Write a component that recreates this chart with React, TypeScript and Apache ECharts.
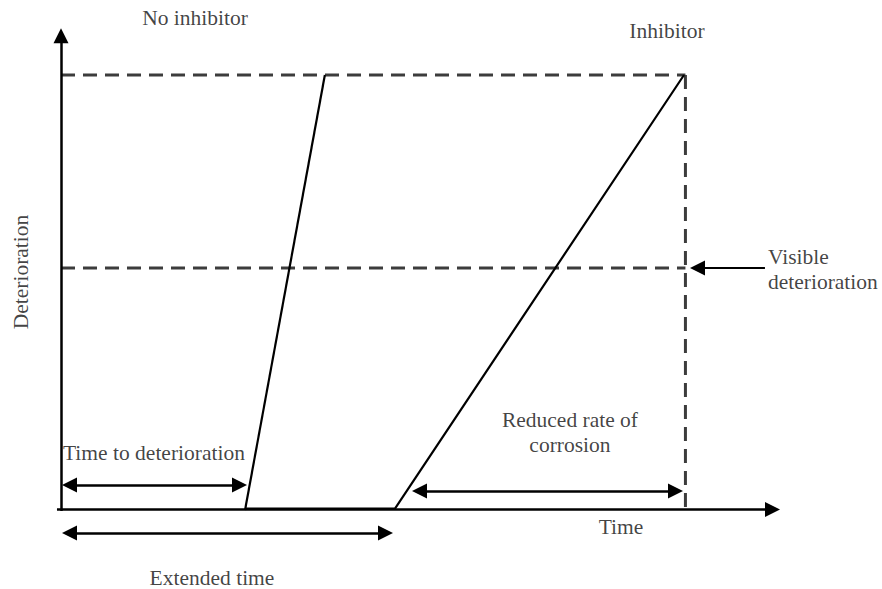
import React, { useEffect, useRef } from "react";
import * as echarts from "echarts";

// Schematic data (Time units 0..100 horizontally, Deterioration units 0..100 vertically)
const noInhibitorTime = [25.6, 36.7];
const noInhibitorDet = [0, 90.25];
const inhibitorTime = [25.6, 46.45, 86.65];
const inhibitorDet = [0.3, 0.3, 90.25];
const failureLevel = 90.25;
const visibleLevel = 50.2;
const thresholdTime = 86.85;

// Annotation texts and their anchor points (data units)
const labelTexts = [
  "No inhibitor",
  "Inhibitor",
  "Deterioration",
  "Visible\ndeterioration",
  "Time to deterioration",
  "Reduced rate of\ncorrosion",
  "Time",
  "Extended time",
];
const labelX = [18.64, 84.28, -5.56, 98.33, 12.93, 70.79, 77.89, 21.0];
const labelY = [102.07, 99.38, 49.38, 50.0, 11.83, 16.18, -3.53, -14.11];

// Arrows (axes and dimension arrows)
const arrowFromX = [0, -0.56, 1.18, 1.18, 49.86, 97.91];
const arrowFromY = [-0.2, 0.1, 5.19, -4.77, 3.94, 50.2];
const arrowToX = [0, 98.96, 24.83, 45.13, 85.47, 88.53];
const arrowToY = [98.4, 0.1, 5.19, -4.77, 3.94, 50.2];
const arrowDouble = [false, false, true, true, true, false];
const arrowWidth = [2.5, 2.5, 2.5, 2.5, 2.5, 2.2];

export default function App() {
  const ref = useRef<HTMLDivElement>(null);

  useEffect(() => {
    document.body.style.margin = "0";
    if (!ref.current) return;
    const chart = echarts.init(ref.current, null, { renderer: "svg" });

    const font = "Liberation Serif";
    const dashColor = "#3c3c3c";
    const dash = [14, 8];

    const zip = (xs: number[], ys: number[]) => xs.map((x, i) => [x, ys[i]]);

    const markData = arrowFromX.map((_, i) => [
      {
        coord: [arrowFromX[i], arrowFromY[i]],
        symbol: arrowDouble[i] ? "triangle" : "none",
        lineStyle: { width: arrowWidth[i], color: "#000", type: "solid" },
      },
      { coord: [arrowToX[i], arrowToY[i]], symbol: "triangle" },
    ]);

    const labelData = labelTexts.map((t, i) => ({
      name: t,
      value: [labelX[i], labelY[i]],
      label:
        i === 2
          ? { rotate: 90 }
          : i === 3
          ? { position: "right", distance: 0, align: "left" }
          : {},
    }));

    chart.setOption({
      animation: false,
      backgroundColor: "#ffffff",
      grid: { left: 0, right: 0, top: 0, bottom: 0, containLabel: false },
      xAxis: {
        type: "value",
        min: -8.484,
        max: 114.19,
        show: false,
        splitLine: { show: false },
      },
      yAxis: {
        type: "value",
        min: -16.39,
        max: 105.81,
        show: false,
        splitLine: { show: false },
      },
      series: [
        {
          name: "Failure level",
          type: "line",
          data: [
            [0, failureLevel],
            [thresholdTime, failureLevel],
          ],
          symbol: "none",
          silent: true,
          lineStyle: { color: dashColor, width: 3, type: dash },
        },
        {
          name: "Visible level",
          type: "line",
          data: [
            [0, visibleLevel],
            [thresholdTime, visibleLevel],
          ],
          symbol: "none",
          silent: true,
          lineStyle: { color: dashColor, width: 3, type: dash },
        },
        {
          name: "Threshold time",
          type: "line",
          data: [
            [thresholdTime, failureLevel],
            [thresholdTime, 0],
          ],
          symbol: "none",
          silent: true,
          lineStyle: { color: dashColor, width: 3, type: dash },
        },
        {
          name: "No inhibitor",
          type: "line",
          data: zip(noInhibitorTime, noInhibitorDet),
          symbol: "none",
          silent: true,
          lineStyle: { color: "#000", width: 2.2 },
        },
        {
          name: "Inhibitor",
          type: "line",
          data: zip(inhibitorTime, inhibitorDet),
          symbol: "none",
          silent: true,
          lineStyle: { color: "#000", width: 2.2 },
        },
        {
          name: "Annotations",
          type: "scatter",
          symbolSize: 0,
          silent: true,
          data: labelData,
          label: {
            show: true,
            position: "inside",
            formatter: (p: any) => p.name,
            fontFamily: font,
            fontSize: 21.5,
            lineHeight: 25,
            color: "#111",
            align: "center",
          },
          markLine: {
            silent: true,
            animation: false,
            symbol: ["triangle", "triangle"],
            symbolSize: 15,
            label: { show: false },
            emphasis: { disabled: true },
            lineStyle: { color: "#000", width: 2.5, type: "solid" },
            data: markData,
          },
          z: 5,
        },
      ],
    });

    return () => chart.dispose();
  }, []);

  return <div ref={ref} style={{ width: 882, height: 589 }} />;
}
